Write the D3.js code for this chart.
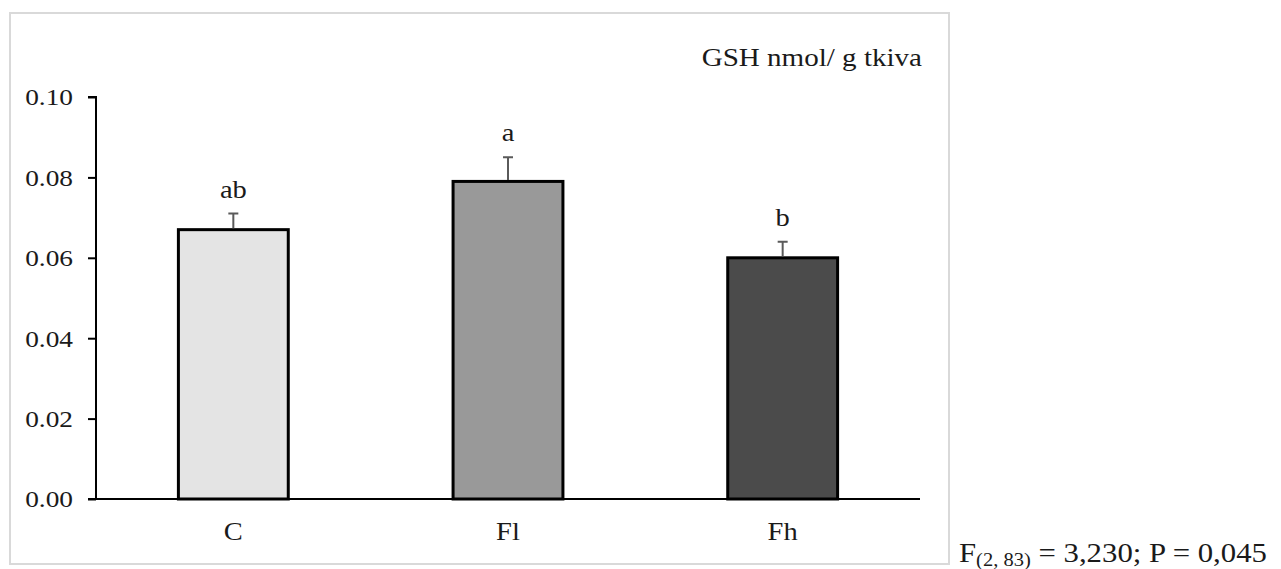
<!DOCTYPE html>
<html><head><meta charset="utf-8">
<script src="https://cdn.jsdelivr.net/npm/d3@7"></script>
<style>body{margin:0;background:#fff}svg{display:block}text{font-family:"Liberation Serif","Times New Roman",serif;fill:#1a1a1a}</style>
</head><body><svg id="c" width="1281" height="569"></svg>
<script>
const categories = ["C","Fl","Fh"];
const values = [0.067, 0.079, 0.060];
const errors = [0.004, 0.006, 0.004];
const letters = ["ab","a","b"];
const fills = ["#e4e4e4","#999999","#4b4b4b"];
const yTicks = [0,0.02,0.04,0.06,0.08,0.10];
const unitLabel = "GSH nmol/ g tkiva";

const SX = 1.14;
const svg = d3.select("#c");
svg.append("rect").attr("x",10).attr("y",13).attr("width",939).attr("height",551)
  .attr("fill","#fff").attr("stroke","#d9d9d9").attr("stroke-width",2);

const x = d3.scaleBand().domain(categories).range([96,920]).paddingInner(0.6).paddingOuter(0.3);
const y = d3.scaleLinear().domain([0,0.1]).range([499,97]);

function stretch(sel, px, py){
  sel.each(function(d,i){
    const t=d3.select(this);
    const xx = typeof px==="function"?px(d,i):px, yy = typeof py==="function"?py(d,i):py;
    t.attr("x",0).attr("y",0).attr("transform",`translate(${xx},${yy}) scale(${SX},1)`);
  });
}

const yAxis = svg.append("g").attr("transform","translate(96,0)")
  .call(d3.axisLeft(y).tickValues(yTicks).tickFormat(d3.format(".2f")).tickSize(8).tickPadding(15));
yAxis.select(".domain").attr("stroke","#000").attr("stroke-width",2).attr("d","M-8,97H0V499H-8");
yAxis.selectAll(".tick line").attr("stroke","#000").attr("stroke-width",2);
yAxis.selectAll("text").style("font-size","24px").attr("fill","#1a1a1a").attr("dy","0.33em")
  .call(s=>stretch(s,-23,0));

const g = svg.append("g");
g.selectAll(".bar").data(categories).join("rect")
  .attr("x",d=>x(d)).attr("width",x.bandwidth())
  .attr("y",(d,i)=>y(values[i])).attr("height",(d,i)=>y(0)-y(values[i]))
  .attr("fill",(d,i)=>fills[i]).attr("stroke","#000").attr("stroke-width",3);

g.selectAll(".err").data(categories).join("path")
  .attr("d",(d,i)=>{const cx=x(d)+x.bandwidth()/2; const t=y(values[i]+errors[i]); const b=y(values[i]);
    return `M${cx},${b-1.5}V${t}M${cx-5},${t}H${cx+5}`;})
  .attr("stroke","#5a5a5a").attr("stroke-width",2).attr("fill","none");

g.selectAll(".let").data(categories).join("text")
  .attr("text-anchor","middle").style("font-size","25px").text((d,i)=>letters[i])
  .call(s=>stretch(s, d=>x(d)+x.bandwidth()/2, (d,i)=>y(values[i]+errors[i])-16));

const xAxis = svg.append("g").attr("transform","translate(0,499)")
  .call(d3.axisBottom(x).tickSize(0).tickPadding(0));
xAxis.select(".domain").attr("stroke","#000").attr("stroke-width",2).attr("d","M96,0H920");
xAxis.selectAll("text").style("font-size","25px").attr("fill","#1a1a1a").attr("dy",null)
  .call(s=>stretch(s,0,41));

svg.append("text").attr("text-anchor","end").style("font-size","25.5px").text(unitLabel)
  .call(s=>stretch(s,922,66));

const ft = svg.append("text").style("font-size","27px").call(s=>stretch(s,959,562));
ft.append("tspan").text("F");
ft.append("tspan").attr("dy",4).style("font-size","18px").text("(2, 83)");
ft.append("tspan").attr("dy",-4).text(" = 3,230; P = 0,045");
</script></body></html>
